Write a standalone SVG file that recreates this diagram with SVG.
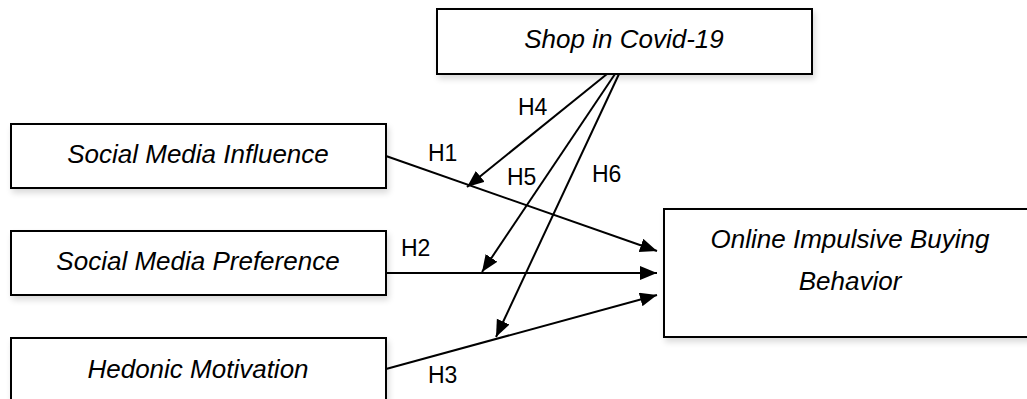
<svg xmlns="http://www.w3.org/2000/svg" width="1027" height="399" viewBox="0 0 1027 399">
  <style>
    .box { fill: #ffffff; stroke: #000000; stroke-width: 2; filter: url(#shadow); }
    .lbl { font-family: "Liberation Sans", Arial, sans-serif; font-style: italic; font-size: 26px; fill: #000000; text-anchor: middle; }
    .h { font-family: "Liberation Sans", Arial, sans-serif; font-size: 23px; fill: #000000; }
    .conn { stroke: #000000; stroke-width: 2; fill: none; marker-end: url(#arrow); }
  </style>
  <defs>
    <marker id="arrow" markerUnits="userSpaceOnUse" markerWidth="20" markerHeight="16" refX="17" refY="7" orient="auto">
      <path d="M0,0 L17,7 L0,14 Z" fill="#000000"/>
    </marker>
    <filter id="shadow" x="-5%" y="-10%" width="115%" height="130%">
      <feGaussianBlur in="SourceAlpha" stdDeviation="3"/>
      <feOffset dx="2" dy="4" result="b"/>
      <feComponentTransfer><feFuncA type="linear" slope="0.15"/></feComponentTransfer>
      <feMerge><feMergeNode/><feMergeNode in="SourceGraphic"/></feMerge>
    </filter>
  </defs>
  <rect width="1027" height="399" fill="#ffffff"/>

  <g id="shop">
    <rect class="box" x="437" y="9" width="375" height="65"/>
    <text class="lbl" x="624" y="48">Shop in Covid-19</text>
  </g>
  <g id="smi">
    <rect class="box" x="11" y="124" width="375" height="64"/>
    <text class="lbl" x="198" y="163">Social Media Influence</text>
  </g>
  <g id="smp">
    <rect class="box" x="11" y="231" width="375" height="64"/>
    <text class="lbl" x="198" y="270">Social Media Preference</text>
  </g>
  <g id="hm">
    <rect class="box" x="11" y="338" width="375" height="80"/>
    <text class="lbl" x="198" y="378">Hedonic Motivation</text>
  </g>
  <g id="oibb">
    <rect class="box" x="664" y="209" width="380" height="128"/>
    <text class="lbl" x="850" y="248">Online Impulsive Buying</text>
    <text class="lbl" x="850" y="290">Behavior</text>
  </g>

  <g id="connectors">
    <line class="conn" x1="386" y1="156" x2="657" y2="251"/>
    <line class="conn" x1="386" y1="273" x2="657" y2="273"/>
    <line class="conn" x1="386" y1="369" x2="657" y2="295"/>
    <line class="conn" x1="607" y1="74" x2="467" y2="187"/>
    <line class="conn" x1="615" y1="74" x2="482" y2="272"/>
    <line class="conn" x1="619" y1="74" x2="496" y2="337"/>
    <text class="h" x="428" y="161">H1</text>
    <text class="h" x="401" y="256">H2</text>
    <text class="h" x="428" y="383">H3</text>
    <text class="h" x="518" y="115">H4</text>
    <text class="h" x="507" y="185">H5</text>
    <text class="h" x="592" y="182">H6</text>
  </g>
</svg>
